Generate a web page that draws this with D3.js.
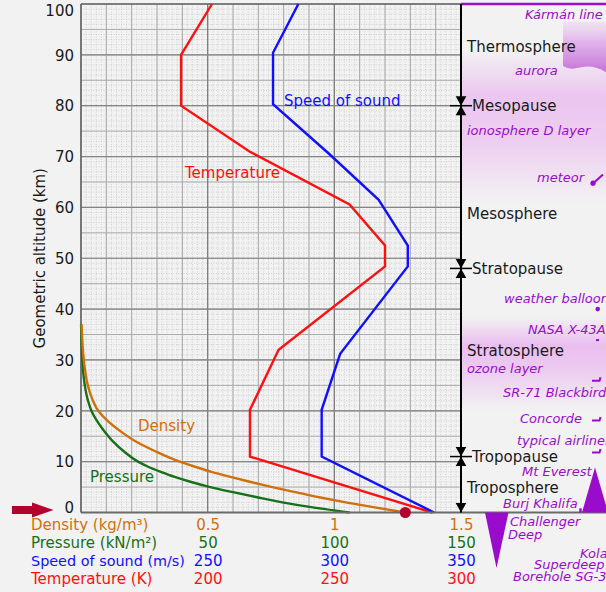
<!DOCTYPE html>
<html><head><meta charset="utf-8">
<script src="https://cdn.jsdelivr.net/npm/d3@7"></script>
<style>
html,body{margin:0;padding:0;background:#f2f2f2;}
svg{display:block;font-family:"DejaVu Sans",sans-serif;}
</style></head><body>
<svg id="c" width="606" height="592"></svg>
<script>
// ---------------- data ----------------
const altTemp = [0, 11, 20.2, 32, 48.4, 52.5, 60.6, 71, 80, 90, 100];
const temperature = [288.6, 216.7, 216.7, 228, 270, 270, 256, 216.5, 189.5, 189.5, 201.7];
const altSpeed = [0, 11, 20.2, 31.2, 48.4, 52.5, 61.5, 70.5, 80.3, 90.4, 100];
const speedOfSound = [339.4, 295, 295, 302.3, 329, 329, 317.5, 298, 275.8, 275.8, 285.8];
const altCurves = [0, 1, 2, 3, 4, 5, 6, 7, 8, 9, 10, 12, 14, 16, 18, 20, 22, 25, 28, 31, 34, 37];
const density = [1.28, 1.16, 1.045, 0.94, 0.845, 0.755, 0.67, 0.59, 0.515, 0.45, 0.39, 0.295, 0.215, 0.155, 0.105, 0.068, 0.047, 0.027, 0.016, 0.009, 0.005, 0.002];
const pressure = [106, 91.5, 79.5, 69.5, 60, 51, 43.5, 37, 31.5, 26.5, 22.5, 17, 12.6, 9.2, 6.3, 4.1, 2.75, 1.5, 0.8, 0.4, 0.17, 0.04];
const seaLevelDensity = 1.28;
const altTicks = [0, 10, 20, 30, 40, 50, 60, 70, 80, 90, 100];
const densityTicks = [0.5, 1, 1.5];
const pressureTicks = [50, 100, 150];
const speedTicks = [250, 300, 350];
const tempTicks = [200, 250, 300];
const layerBounds = [80, 48, 11];
const layers = [
  {name: "Thermosphere", alt: 90.6},
  {name: "Mesosphere", alt: 57.8},
  {name: "Stratosphere", alt: 30.7},
  {name: "Troposphere", alt: 3.8}
];
const pauses = [
  {name: "Mesopause", alt: 80},
  {name: "Stratopause", alt: 48},
  {name: "Tropopause", alt: 11}
];
const notes = [
  {text: "Kármán line", x: 525, alt: 97.0},
  {text: "aurora", x: 515, alt: 86.0},
  {text: "ionosphere D layer", x: 467, alt: 74.3},
  {text: "meteor", x: 537, alt: 65.0},
  {text: "weather balloon", x: 504, alt: 41.2},
  {text: "NASA X-43A", x: 528, alt: 35.1},
  {text: "ozone layer", x: 467, alt: 27.4},
  {text: "SR-71 Blackbird", x: 503, alt: 22.7},
  {text: "Concorde", x: 520, alt: 17.6},
  {text: "typical airliner", x: 517, alt: 13.3},
  {text: "Mt Everest", x: 522, alt: 7.185},
  {text: "Burj Khalifa", x: 503, alt: 0.9},
  {text: "Challenger", x: 510, alt: -2.65},
  {text: "Deep", x: 508, alt: -5.3},
  {text: "Kola", x: 580, alt: -8.9},
  {text: "Superdeep", x: 534, alt: -11.2},
  {text: "Borehole SG-3", x: 513, alt: -13.5}
];
const planes = [25.9, 18.1, 11.8];
const everestAlt = 8.85, burjAlt = 0.83, challengerDepth = -10.9;
const balloonAlt = 40, x43Alt = 33.9, meteorAlt = 65.6;

// ---------------- scales ----------------
const svg = d3.select("#c");
const X0 = 81, X1 = 461;
const y = d3.scaleLinear([0, 100], [512.5, 4]);
const xDen = d3.scaleLinear([0, 1.5], [X0, X1]);
const xPre = d3.scaleLinear([0, 150], [X0, X1]);
const xSpd = d3.scaleLinear([200, 350], [X0, X1]);
const xTmp = d3.scaleLinear([150, 300], [X0, X1]);

const C = {den: "#d0700c", pre: "#187018", spd: "#1010ff", tmp: "#ff1010", pur: "#9a0ccc", dk: "#1a1a1a", crim: "#b4002c"};

svg.append("rect").attr("width", 606).attr("height", 592).attr("fill", "#f2f2f2");

// ---------------- defs ----------------
const defs = svg.append("defs");
function vgrad(id, stops) {
  const g = defs.append("linearGradient").attr("id", id).attr("x1", 0).attr("y1", 0).attr("x2", 0).attr("y2", 1);
  stops.forEach(s => g.append("stop").attr("offset", s[0]).attr("stop-color", s[1]).attr("stop-opacity", s[2]));
}
vgrad("iono", [[0, "#e6a2ee", 0], [0.3, "#e6a2ee", 0.55], [0.6, "#e6a2ee", 0.45], [1, "#e6a2ee", 0]]);
vgrad("ozone", [[0, "#e6a2ee", 0], [0.3, "#e6a2ee", 0.65], [0.55, "#e6a2ee", 0.5], [1, "#e6a2ee", 0]]);
vgrad("aur", [[0, "#ecd2f2", 0.5], [0.4, "#e0b0ea", 0.95], [1, "#c574d8", 1]]);

// ---------------- right panel decorations ----------------
const panel = svg.append("g");
panel.append("rect").attr("x", X1).attr("width", 606 - X1).attr("y", y(91)).attr("height", y(61) - y(91)).attr("fill", "url(#iono)");
panel.append("rect").attr("x", X1).attr("width", 606 - X1).attr("y", y(38.5)).attr("height", y(20) - y(38.5)).attr("fill", "url(#ozone)");
// aurora curtain
const ax0 = 563, ax1 = 606;
panel.append("path")
  .attr("d", `M${ax0},${y(96.5)} L${ax1},${y(96.5)} L${ax1},${y(86.6)} Q${(ax0 + ax1) / 2 + 8},${y(88.3)} ${ax0 + 14},${y(87.4)} Q${ax0 + 6},${y(87.0)} ${ax0},${y(87.8)} Z`)
  .attr("fill", "url(#aur)");

// ---------------- grid ----------------
const grid = svg.append("g");
const minorX = d3.range(0, 1.5001, 0.02), minorY = d3.range(0, 100.001, 1);
grid.selectAll(".mx").data(minorX).join("line").attr("x1", d => xDen(d)).attr("x2", d => xDen(d)).attr("y1", y(100)).attr("y2", y(0))
  .attr("stroke", "#c4c4c4").attr("stroke-width", 0.7).attr("stroke-dasharray", "1,1.5");
grid.selectAll(".my").data(minorY).join("line").attr("y1", d => y(d)).attr("y2", d => y(d)).attr("x1", X0).attr("x2", X1)
  .attr("stroke", "#c4c4c4").attr("stroke-width", 0.7).attr("stroke-dasharray", "1,1.5");
grid.selectAll(".Mx").data(d3.range(0.1, 1.5, 0.1)).join("line").attr("x1", d => xDen(d)).attr("x2", d => xDen(d)).attr("y1", y(100)).attr("y2", y(0))
  .attr("stroke", "#a6a6a6").attr("stroke-width", 1);
grid.selectAll(".My").data(d3.range(5, 100, 5)).join("line").attr("y1", d => y(d)).attr("y2", d => y(d)).attr("x1", X0).attr("x2", X1)
  .attr("stroke", "#acacac").attr("stroke-width", 1);
grid.selectAll(".MMx").data([0.5, 1]).join("line").attr("x1", d => xDen(d)).attr("x2", d => xDen(d)).attr("y1", y(100)).attr("y2", y(0))
  .attr("stroke", "#7c7c7c").attr("stroke-width", 1.2);
grid.selectAll(".MMy").data(d3.range(10, 100, 10)).join("line").attr("y1", d => y(d)).attr("y2", d => y(d)).attr("x1", X0).attr("x2", X1)
  .attr("stroke", "#858585").attr("stroke-width", 1.2);

// frame
svg.append("line").attr("x1", X0).attr("x2", X1).attr("y1", y(100)).attr("y2", y(100)).attr("stroke", "#5a5a5a").attr("stroke-width", 1.6);
svg.append("line").attr("x1", X0).attr("x2", X0).attr("y1", y(100)).attr("y2", y(0)).attr("stroke", "#6a6a6a").attr("stroke-width", 1.8);

// ---------------- curves ----------------
const plot = svg.append("g");
const lineT = d3.line().x((d, i) => xTmp(temperature[i])).y(d => y(d));
const lineS = d3.line().x((d, i) => xSpd(speedOfSound[i])).y(d => y(d));
const lineD = d3.line().x((d, i) => xDen(density[i])).y(d => y(d)).curve(d3.curveMonotoneY);
const lineP = d3.line().x((d, i) => xPre(pressure[i])).y(d => y(d)).curve(d3.curveMonotoneY);
plot.append("path").attr("d", lineP(altCurves)).attr("fill", "none").attr("stroke", C.pre).attr("stroke-width", 2.4);
plot.append("path").attr("d", lineD(altCurves)).attr("fill", "none").attr("stroke", C.den).attr("stroke-width", 2.4);
plot.append("path").attr("d", lineT(altTemp)).attr("fill", "none").attr("stroke", C.tmp).attr("stroke-width", 2.4);
plot.append("path").attr("d", lineS(altSpeed)).attr("fill", "none").attr("stroke", C.spd).attr("stroke-width", 2.4);

// bottom axis line
svg.append("line").attr("x1", X0).attr("x2", 606).attr("y1", y(0)).attr("y2", y(0)).attr("stroke", "#6a6a6a").attr("stroke-width", 2);

// sea-level dot
svg.append("circle").attr("cx", xDen(seaLevelDensity)).attr("cy", y(0)).attr("r", 5.5).attr("fill", C.crim);

// curve labels
const lab = (t, x, yy, col) => svg.append("text").attr("x", x).attr("y", yy).attr("fill", col).attr("font-size", 15).text(t);
lab("Speed of sound", 284, y(80) + 0.5, C.spd);
lab("Temperature", 185, y(65.8), C.tmp);
lab("Density", 138, y(16.0), C.den);
lab("Pressure", 90, y(6.0), C.pre);

// ---------------- y axis ----------------
const yAxis = svg.append("g").attr("transform", `translate(${X0},0)`)
  .call(d3.axisLeft(y).tickValues(altTicks).tickSize(0).tickPadding(7));
yAxis.select(".domain").remove();
yAxis.selectAll("text").attr("font-size", 15).attr("font-family", "DejaVu Sans").attr("fill", C.dk)
  .attr("dy", d => d === 100 ? "0.75em" : d === 0 ? "0em" : "0.35em");
svg.append("text").attr("transform", `translate(44.5,${y(50)}) rotate(-90)`).attr("text-anchor", "middle")
  .attr("font-size", 15).attr("fill", C.dk).text("Geometric altitude (km)");

// ---------------- x axis rows ----------------
const rows = [
  {title: "Density (kg/m³)", scale: xDen, ticks: densityTicks, col: C.den, fs: 15},
  {title: "Pressure (kN/m²)", scale: xPre, ticks: pressureTicks, col: C.pre, fs: 15},
  {title: "Speed of sound (m/s)", scale: xSpd, ticks: speedTicks, col: C.spd, fs: 14.4},
  {title: "Temperature (K)", scale: xTmp, ticks: tempTicks, col: C.tmp, fs: 15}
];
rows.forEach((r, i) => {
  const top = 519 + i * 18;
  const g = svg.append("g").attr("transform", `translate(0,${top})`)
    .call(d3.axisBottom(r.scale).tickValues(r.ticks).tickSize(0).tickPadding(0).tickFormat(d3.format("")));
  g.select(".domain").remove();
  g.selectAll("text").attr("font-size", 15).attr("font-family", "DejaVu Sans").attr("fill", r.col).attr("dy", "0.71em");
  svg.append("text").attr("x", 31).attr("y", top + 10.6).attr("font-size", r.fs).attr("fill", r.col).text(r.title);
});

// ---------------- right axis with layer arrows ----------------
svg.append("line").attr("x1", X1).attr("x2", 606).attr("y1", y(100)).attr("y2", y(100)).attr("stroke", C.pur).attr("stroke-width", 2.6);
svg.append("line").attr("x1", X1).attr("x2", X1).attr("y1", y(100)).attr("y2", y(0)).attr("stroke", "#000").attr("stroke-width", 2);
const mk = svg.append("g");
layerBounds.forEach(a => {
  const yy = y(a);
  mk.append("path").attr("d", `M${X1 - 5.3},${yy - 9.5} L${X1 + 5.3},${yy - 9.5} L${X1},${yy} Z M${X1 - 5.3},${yy + 9.5} L${X1 + 5.3},${yy + 9.5} L${X1},${yy} Z`).attr("fill", "#000");
  mk.append("line").attr("x1", X1 - 11).attr("x2", X1 + 11).attr("y1", yy).attr("y2", yy).attr("stroke", "#000").attr("stroke-width", 1.5);
});
mk.append("path").attr("d", `M${X1 - 5.3},${y(0) - 9.5} L${X1 + 5.3},${y(0) - 9.5} L${X1},${y(0)} Z`).attr("fill", "#000");

layers.forEach(l => svg.append("text").attr("x", 467).attr("y", y(l.alt)).attr("font-size", 15).attr("fill", C.dk).text(l.name));
pauses.forEach(p => svg.append("text").attr("x", 472).attr("y", y(p.alt)).attr("dy", "0.36em").attr("font-size", 15).attr("fill", C.dk).text(p.name));

notes.forEach(n => svg.append("text").attr("x", n.x).attr("y", y(n.alt)).attr("font-size", 13).attr("font-style", "italic")
  .attr("fill", C.pur).text(n.text));

// icons
const ic = svg.append("g").attr("fill", C.pur).attr("stroke", C.pur);
ic.append("line").attr("x1", 603).attr("y1", y(meteorAlt) - 4.5).attr("x2", 593.5).attr("y2", y(meteorAlt) + 4).attr("stroke-width", 2);
ic.append("circle").attr("cx", 593).attr("cy", y(meteorAlt) + 4.3).attr("r", 2.6).attr("stroke", "none");
ic.append("circle").attr("cx", 597.7).attr("cy", y(balloonAlt)).attr("r", 2.3).attr("stroke", "none");
ic.append("rect").attr("x", 596).attr("y", y(x43Alt) - 1).attr("width", 3).attr("height", 2).attr("stroke", "none");
planes.forEach(a => {
  const yy = y(a);
  ic.append("path").attr("d", `M592,${yy} L599.5,${yy} L600.5,${yy - 3.5}`).attr("fill", "none").attr("stroke-width", 2);
});
ic.append("path").attr("d", `M${582},${y(0)} L${595},${y(everestAlt)} L${608},${y(0)} Z`).attr("stroke", "none");
ic.append("rect").attr("x", 579.3).attr("y", y(burjAlt)).attr("width", 2.4).attr("height", y(0) - y(burjAlt)).attr("stroke", "none");
ic.append("path").attr("d", `M${485},${y(0)} L${508.5},${y(0)} L${496.5},${y(challengerDepth)} Z`).attr("stroke", "none");

// left arrow pointing at sea level
svg.append("path").attr("d", `M12,${y(0) - 6.5} L32,${y(0) - 6.5} L32,${y(0) - 10} L53.5,${y(0) - 2.5} L32,${y(0) + 5} L32,${y(0) + 1.5} L12,${y(0) + 1.5} Z`).attr("fill", C.crim);
</script>
</body></html>
